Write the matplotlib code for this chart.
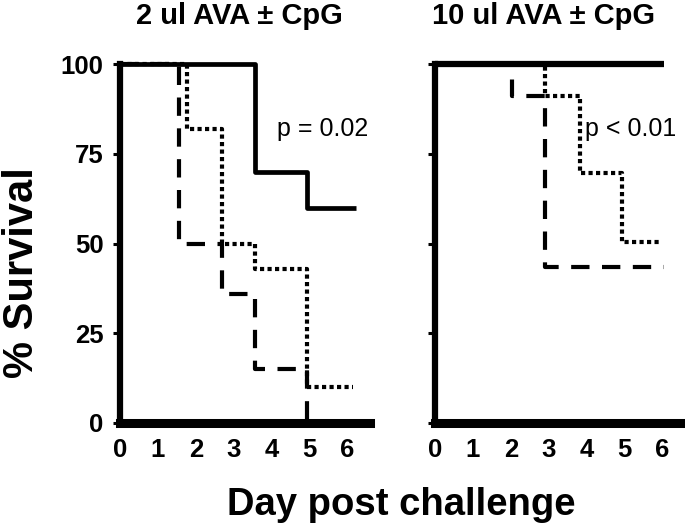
import matplotlib
matplotlib.use("Agg")
import matplotlib.pyplot as plt

plt.rcParams['font.family'] = ['Liberation Sans', 'DejaVu Sans']

# survival curves (day, % survival)
left_solid_x = [0, 3.56, 4.93, 6.23]
left_solid_y = [100, 70, 60, 60]
left_dashed_x = [0, 1.56, 2.69, 3.56, 4.93]
left_dashed_y = [100, 50, 36, 15, 0]
left_dotted_x = [0, 1.77, 2.69, 3.56, 4.93, 6.15]
left_dotted_y = [100, 82, 50, 43, 10, 10]

right_solid_x = [0, 6.05]
right_solid_y = [100, 100]
right_dashed_x = [0, 2.03, 2.9, 6.05]
right_dashed_y = [100, 91, 43.5, 43.5]
right_dotted_x = [0, 2.9, 3.83, 4.93, 5.94]
right_dotted_y = [100, 91, 69.5, 50.5, 50.5]

titles = ['2 ul AVA \u00b1 CpG', '10 ul AVA \u00b1 CpG']
p_texts = ['p = 0.02', 'p < 0.01']
yticks = [0, 25, 50, 75, 100]
xticks = [0, 1, 2, 3, 4, 5, 6]

W, H = 685, 526
fig = plt.figure(figsize=(W / 100, H / 100), dpi=100)
ax1 = fig.add_axes([120 / W, 1 - 423 / H, 250 / W, (423 - 64) / H])
ax2 = fig.add_axes([435 / W, 1 - 423 / H, 250 / W, (423 - 64) / H])


def draw_panel(ax, sx, sy, dx, dy, ox, oy, solid_lw):
    ax.plot(dx, dy, drawstyle='steps-post', color='black', lw=3,
            dashes=(4.4, 3.0), dash_capstyle='butt', clip_on=False)
    ax.plot(ox, oy, drawstyle='steps-post', color='black', lw=3,
            dashes=(1, 0.8), dash_capstyle='butt', clip_on=False)
    ax.plot(sx, sy, drawstyle='steps-post', color='black', lw=solid_lw,
            solid_capstyle='butt', clip_on=False)
    ax.set_xlim(0, 6.6)
    ax.set_ylim(0, 100)
    ax.set_xticks(xticks)
    ax.set_yticks(yticks)
    for s in ['top', 'right']:
        ax.spines[s].set_visible(False)
    ax.spines['left'].set_linewidth(4.5)
    ax.spines['bottom'].set_linewidth(6.5)
    ax.spines['left'].set_zorder(5)
    ax.tick_params(axis='y', direction='out', length=5, width=2.2, pad=7)
    ax.tick_params(axis='x', length=0, pad=11)
    for lab in ax.get_xticklabels() + ax.get_yticklabels():
        lab.set_fontsize(18.5)
        lab.set_fontweight('bold')


draw_panel(ax1, left_solid_x, left_solid_y, left_dashed_x, left_dashed_y,
           left_dotted_x, left_dotted_y, 3.4)
draw_panel(ax2, right_solid_x, right_solid_y, right_dashed_x, right_dashed_y,
           right_dotted_x, right_dotted_y, 4.5)
ax2.set_yticklabels([])

ax1.text(4.15, 82, p_texts[0], fontsize=18, va='center', ha='left')
ax2.text(3.97, 82, p_texts[1], fontsize=18, va='center', ha='left')

fig.text(239 / W, 1 - 24 / H, titles[0], fontsize=21, fontweight='bold',
         ha='center', va='baseline')
fig.text(543 / W, 1 - 24 / H, titles[1], fontsize=21, fontweight='bold',
         ha='center', va='baseline')

fig.text(22 / W, 1 - 273 / H, '% Survival', fontsize=30, fontweight='bold',
         rotation=90, ha='center', va='center')
fig.text(401 / W, 1 - 515 / H, 'Day post challenge', fontsize=27.5,
         fontweight='bold', ha='center', va='baseline')

fig.savefig('out.png', dpi=100)
